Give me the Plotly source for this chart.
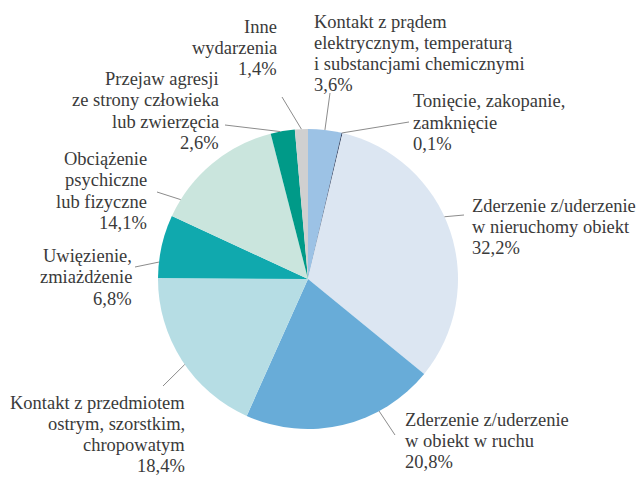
import math
import plotly.graph_objects as go

# ---- data ----
categories = [
    "Kontakt z prądem elektrycznym, temperaturą i substancjami chemicznymi",
    "Tonięcie, zakopanie, zamknięcie",
    "Zderzenie z/uderzenie w nieruchomy obiekt",
    "Zderzenie z/uderzenie w obiekt w ruchu",
    "Kontakt z przedmiotem ostrym, szorstkim, chropowatym",
    "Uwięzienie, zmiażdżenie",
    "Obciążenie psychiczne lub fizyczne",
    "Przejaw agresji ze strony człowieka lub zwierzęcia",
    "Inne wydarzenia",
]
values = [3.6, 0.1, 32.2, 20.8, 18.4, 6.8, 14.1, 2.6, 1.4]
label_lines = [
    ["Kontakt z prądem", "elektrycznym, temperaturą", "i substancjami chemicznymi"],
    ["Tonięcie, zakopanie,", "zamknięcie"],
    ["Zderzenie z/uderzenie", "w nieruchomy obiekt"],
    ["Zderzenie z/uderzenie", "w obiekt w ruchu"],
    ["Kontakt z przedmiotem", "ostrym, szorstkim,", "chropowatym"],
    ["Uwięzienie,", "zmiażdżenie"],
    ["Obciążenie", "psychiczne", "lub fizyczne"],
    ["Przejaw agresji", "ze strony człowieka", "lub zwierzęcia"],
    ["Inne", "wydarzenia"],
]
colors = ["#9cc2e5", "#26385a", "#dce6f2", "#68acd8", "#b6dde4",
          "#10a9ae", "#cae5dd", "#009a88", "#d0d0d0"]

# ---- layout config (screen pixels) ----
OFF = 8
W, H = 644 - OFF, 477 - OFF
CX, CY, R = 308, 279, 150
FONT = "Liberation Serif, Times New Roman, serif"
FONT_SIZE = 18.5
LINE_STEP = 21.3
# label block: (x, y of first line centre, anchor side)
label_pos = [
    (312, 21.5, "left"),
    (411, 101.5, "left"),
    (470, 205.5, "left"),
    (403, 419.5, "left"),
    (187, 402.5, "right"),
    (134, 256, "right"),
    (149, 159, "right"),
    (221, 79, "right"),
    (279, 26.5, "right"),
]
leader_frac = [0.5, 0.5, 0.45, 0.3, 0.47, 0.25, 0.14, 0.4, 0.5]
leader_end = [(330, 93), (409, 122), (464, 215), (395, 435), (163, 386),
              (135, 267), (157, 192), (225, 125), (282, 97)]


def px(x):
    return (x - OFF) / W


def py(y):
    return 1 - (y - OFF) / H


fig = go.Figure(go.Pie(
    labels=categories, values=values, sort=False, direction="clockwise",
    rotation=0, marker=dict(colors=colors, line=dict(width=0)),
    textinfo="none", hoverinfo="label+percent", showlegend=False,
    domain=dict(x=[px(CX - R), px(CX + R)], y=[py(CY + R), py(CY - R)]),
))

total = sum(values)
cum = 0
shapes = []
annotations = []
for i, v in enumerate(values):
    theta = 2 * math.pi * (cum + leader_frac[i] * v) / total
    cum += v
    sx = CX + R * math.sin(theta)
    sy = CY - R * math.cos(theta)
    ex, ey = leader_end[i]
    shapes.append(dict(type="line", xref="paper", yref="paper",
                       x0=px(sx), y0=py(sy), x1=px(ex), y1=py(ey),
                       line=dict(color="#8c8c8c", width=1)))
    pct = f"{v:.1f}".replace(".", ",") + "%"
    lx, ly, side = label_pos[i]
    for k, line in enumerate(label_lines[i] + [pct]):
        annotations.append(dict(
            x=px(lx), y=py(ly + k * LINE_STEP), xref="paper", yref="paper",
            text=line, showarrow=False, xanchor=side, yanchor="middle",
            align=side,
            font=dict(family=FONT, size=FONT_SIZE, color="#3a3a3a"),
        ))

fig.update_layout(
    width=W, height=H, margin=dict(l=0, r=0, t=0, b=0),
    paper_bgcolor="white", plot_bgcolor="white",
    shapes=shapes, annotations=annotations,
)
fig.write_html("out.html")
